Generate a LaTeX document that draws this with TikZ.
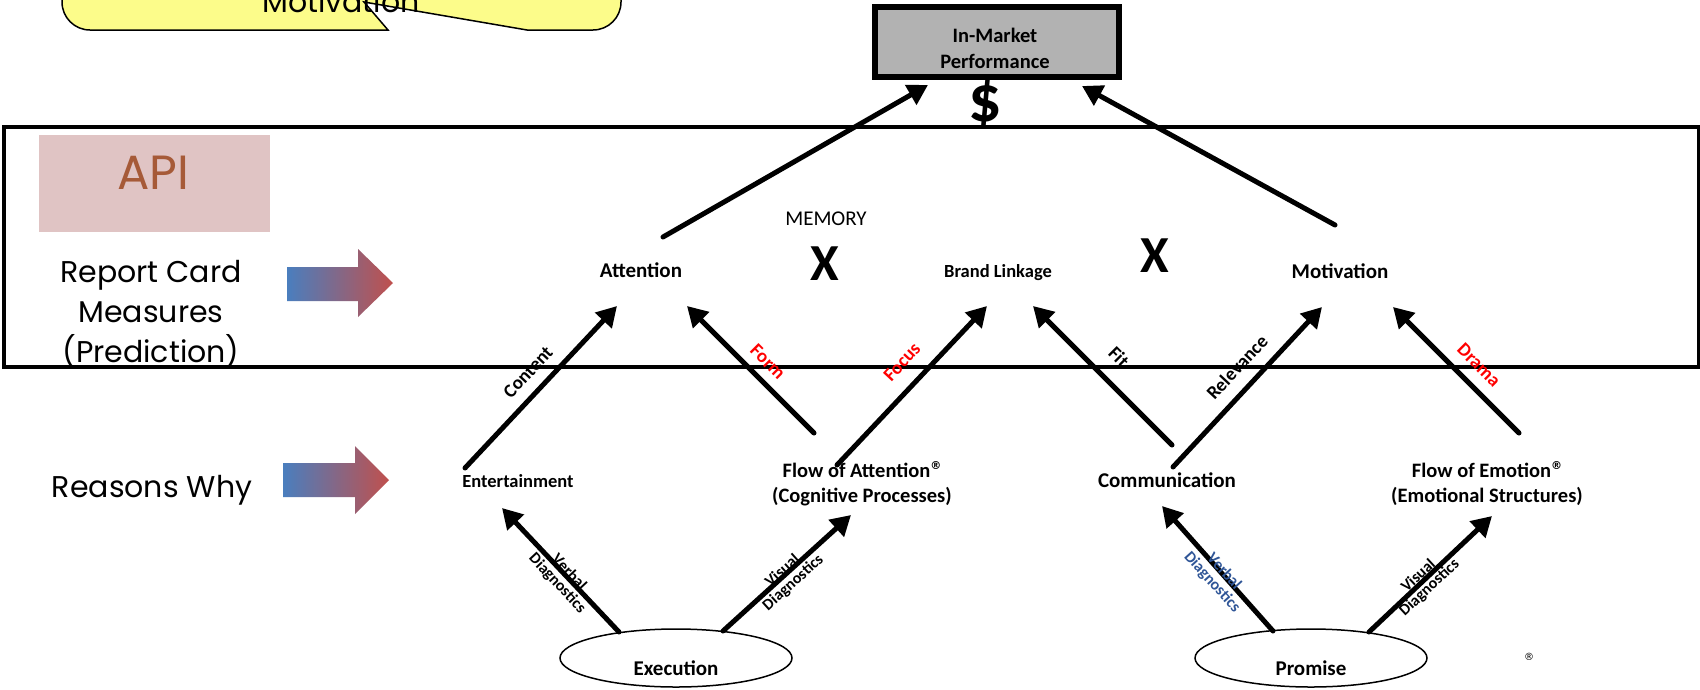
\documentclass[tikz,border=0pt]{standalone}
\usepackage{fontspec}
\setmainfont{Carlito}
\newfontfamily\popfont{Poppins}
\newfontfamily\symfont{DejaVu Sans}
\usetikzlibrary{arrows.meta,shapes.geometric,calc}
\definecolor{calloutyellow}{RGB}{252,252,138}
\definecolor{apipink}{RGB}{224,196,196}
\definecolor{apibrown}{RGB}{166,90,56}
\definecolor{gradblue}{RGB}{74,126,190}
\definecolor{gradred}{RGB}{192,80,77}
\definecolor{boxgray}{RGB}{178,178,178}
\definecolor{labelblue}{RGB}{47,85,151}
\newcommand{\regmark}{\raisebox{8pt}{\symfont\fontsize{11}{11}\selectfont ®}}
\begin{document}
\begin{tikzpicture}[x=1pt,y=-1pt,
  bigtxt/.style={font=\bfseries\fontsize{21}{25}\selectfont, inner sep=0pt, anchor=base},
  midtxt/.style={font=\bfseries\fontsize{18.5}{22}\selectfont, inner sep=0pt, anchor=base},
  flowtxt/.style={font=\bfseries\fontsize{20.5}{25}\selectfont, inner sep=0pt, anchor=base},
  regtxt/.style={font=\fontsize{21}{25}\selectfont, inner sep=0pt, anchor=base},
  xtxt/.style={font=\bfseries\fontsize{52}{52}\selectfont, inner sep=0pt, anchor=base},
  poptxt/.style={font=\popfont\fontsize{30}{40}\selectfont, inner sep=0pt, anchor=base},
  lab/.style={font=\bfseries\fontsize{19}{19}\selectfont, inner sep=0pt},
  diag/.style={font=\bfseries\fontsize{16}{16}\selectfont, inner sep=0pt, align=center},
  ell/.style={ellipse, draw, line width=1.5pt, minimum width=232pt, minimum height=58pt, inner sep=0pt},
  arr/.style={line width=5pt, line cap=round, -{Triangle[length=20pt,width=22pt]}},
  gradarrow/.style={left color=gradblue, right color=gradred}
]
\clip (0,0) rectangle (1700,689);
\fill[white] (0,0) rectangle (1700,689);

% yellow callout
\filldraw[fill=calloutyellow, draw=black, line width=1.5pt]
  (200,30) -- (388,30) -- (364,2) -- (527,30) -- (560,30)
  [rounded corners=28pt] -- (621,30) -- (621,-60) -- (62,-60) -- (62,30) -- cycle;
\node[poptxt] (callouttxt) at (341,12) {Motivation};

% frame
\draw[line width=4pt] (4,127) rectangle (1699,367);

% API box
\node[fill=apipink, minimum width=231pt, minimum height=97pt, inner sep=0pt] (apibox) at (154.5,183.5) {};
\node[poptxt, font=\popfont\fontsize{48}{48}\selectfont, text=apibrown] (api) at (153,189) {API};

% left texts
\node[poptxt] (rc1) at (151,282) {Report Card};
\node[poptxt] (rc2) at (151,322) {Measures};
\node[poptxt] (rc3) at (151,362) {(Prediction)};
\node[poptxt] (rw) at (152,497) {Reasons Why};

% gradient arrows
\shade[gradarrow] (287,267) -- (358,267) -- (358,249) -- (393,283) -- (358,317) -- (358,301) -- (287,301) -- cycle;
\shade[gradarrow] (283,463) -- (355,463) -- (355,446) -- (389,480) -- (355,514) -- (355,497) -- (283,497) -- cycle;

% dollar and In-Market box
\node[xtxt, font=\bfseries\fontsize{66}{66}\selectfont] (dollar) at (985,121) {\$};
\node[draw, line width=6pt, fill=boxgray, minimum width=244pt, minimum height=70pt, inner sep=0pt] (imp) at (997,42) {};
\node[midtxt, font=\bfseries\fontsize{20.5}{24}\selectfont] (imp1) at (995,42) {In-Market};
\node[midtxt, font=\bfseries\fontsize{20.5}{24}\selectfont] (imp2) at (995,68) {Performance};

% row 2
\node[bigtxt] (att) at (641,277) {Attention};
\node[midtxt] (bl) at (998,277) {Brand Linkage};
\node[bigtxt] (mot) at (1340,278) {Motivation};
\node[regtxt] (mem) at (826,225) {MEMORY};
\node[xtxt] (x1) at (825,280) {X};
\node[xtxt] (x2) at (1155,272) {X};

% row 3
\node[midtxt] (ent) at (518,487) {Entertainment};
\node[flowtxt] (foa1) at (862,477) {Flow of Attention\regmark};
\node[flowtxt] (foa2) at (862,502) {(Cognitive Processes)};
\node[bigtxt] (com) at (1167,487) {Communication};
\node[flowtxt] (foe1) at (1487,477) {Flow of Emotion\regmark};
\node[flowtxt] (foe2) at (1487,502) {(Emotional Structures)};

% bottom
\node[ell] (ex) at (676,658) {};
\node[bigtxt] (exT) at (676,675) {Execution};
\node[ell] (pr) at (1311,658) {};
\node[bigtxt] (prT) at (1311,675) {Promise};
\node[font=\symfont\fontsize{10}{10}\selectfont, inner sep=0pt] (reg) at (1529,657) {®};

% arrows to In-Market
\draw[arr] ($(att.base)+(22,-40)$) -- ($(imp)+(-69,43)$);
\draw[arr] ($(mot.base)+(-5,-53)$) -- ($(imp)+(85,44)$);

% middle arrows
\draw[arr] ($(ent.base)+(-53,-19)$) -- ($(att.base)+(-24,29)$);
\draw[arr] ($(foa1.base)+(-48,-44)$) -- ($(att.base)+(46,29)$);
\draw[arr] ($(foa1.base)+(-25,-12)$) -- ($(bl.base)+(-11,29)$);
\draw[arr] ($(com.base)+(5,-42)$) -- ($(bl.base)+(35,29)$);
\draw[arr] ($(com.base)+(6,-20)$) -- ($(mot.base)+(-18,29)$);
\draw[arr] ($(foe1.base)+(32,-44)$) -- ($(mot.base)+(53,29)$);

% lower arrows
\draw[arr] ($(ex)+(-57,-26)$) -- ($(ent.base)+(-16,21)$);
\draw[arr] ($(ex)+(47,-27)$) -- ($(foa2.base)+(-11,13)$);
\draw[arr] ($(pr)+(-38,-27)$) -- ($(com.base)+(-5,19)$);
\draw[arr] ($(pr)+(58,-26)$) -- ($(foe2.base)+(5,14)$);

% connector labels
\node[lab, rotate=47] (lContent) at (528,372) {Content};
\node[lab, red, rotate=-45] (lForm) at (768,362) {Form};
\node[lab, red, rotate=47] (lFocus) at (902,362) {Focus};
\node[lab, rotate=-45] (lFit) at (1119,357) {Fit};
\node[lab, rotate=47] (lRel) at (1237,367) {Relevance};
\node[lab, red, rotate=-45] (lDrama) at (1479,365) {Drama};
\node[diag, rotate=-47] (lVerb1) at (563,578) {Verbal\\Diagnostics};
\node[diag, rotate=42] (lVis1) at (788,577) {Visual\\Diagnostics};
\node[diag, text=labelblue, rotate=-48] (lVerb2) at (1218,577) {Verbal\\Diagnostics};
\node[diag, rotate=43] (lVis2) at (1424,582) {Visual\\Diagnostics};
\end{tikzpicture}
\end{document}
